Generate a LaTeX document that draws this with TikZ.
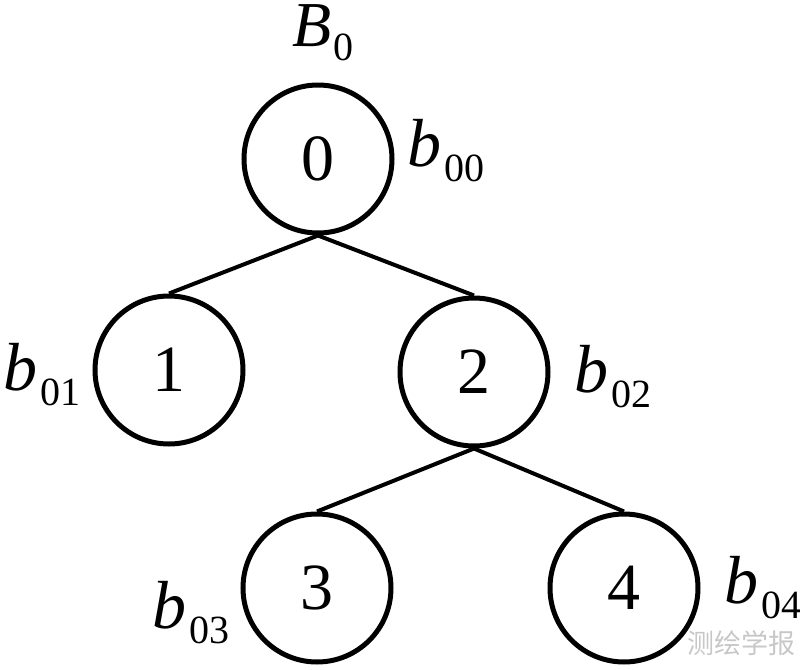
\documentclass[tikz,border=0pt]{standalone}
\usepackage{fontspec}
\setmainfont{Liberation Serif}
\newfontfamily\cjk{Noto Sans CJK SC}
\begin{document}
\begin{tikzpicture}[x=0.5pt,y=-0.5pt,
  treenode/.style={circle,draw,line width=2.5pt,minimum size=74pt,inner sep=0pt,
    font=\fontsize{33}{40}\selectfont},
  link/.style={line width=2pt},
  lbl/.style={anchor=base west,inner sep=0pt,font=\fontsize{34}{40}\selectfont}]
\useasboundingbox (0,0) rectangle (800,670);
\newcommand{\blabel}[1]{\textit{b}\hspace{1.5pt}\raisebox{-7.5pt}{\fontsize{20}{24}\selectfont #1}}
\node[treenode] (n0) at (318,159) {0};
\node[treenode] (n1) at (169,370) {1};
\node[treenode] (n2) at (474,372) {2};
\node[treenode] (n3) at (317,588) {3};
\node[treenode] (n4) at (624,588) {4};
\draw[link] (n0.south) -- (n1.north);
\draw[link] (n0.south) -- (n2.north);
\draw[link] (n2.south) -- (n3.north);
\draw[link] (n2.south) -- (n4.north);
\node[lbl,font=\fontsize{32}{40}\selectfont] (B0) at (292,46) {\textit{B}\hspace{1pt}\raisebox{-7pt}{\fontsize{20}{24}\selectfont 0}};
\node[lbl] (l0) at (407,166) {\blabel{00}};
\node[lbl] (l1) at (3,390) {\blabel{01}};
\node[lbl] (l2) at (574,392) {\blabel{02}};
\node[lbl] (l3) at (152,628) {\blabel{03}};
\node[lbl] (l4) at (724,603) {\blabel{04}};
\node[anchor=south east,inner sep=0pt,text=black!22,font=\cjk\fontsize{13.5}{16}\selectfont] (wm) at (796,656) {测绘学报};
\end{tikzpicture}
\end{document}
